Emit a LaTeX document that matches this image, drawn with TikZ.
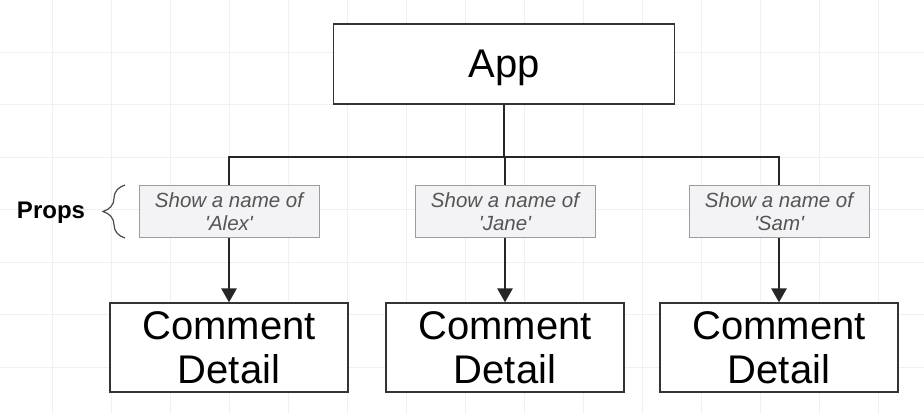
\documentclass[tikz,border=0pt]{standalone}
\usepackage{fontspec}
\setmainfont{Liberation Sans}
\usetikzlibrary{arrows.meta,decorations.pathreplacing,positioning}
\definecolor{propfill}{HTML}{F3F3F5}
\definecolor{propline}{HTML}{9C9C9C}
\definecolor{proptext}{HTML}{555555}
\definecolor{gridline}{HTML}{F0F0F4}
\tikzset{
  compbox/.style={draw=black!80, line width=1.2pt, fill=white, align=center,
    inner sep=0pt, font=\fontsize{40}{44}\selectfont},
  propbox/.style={draw=propline, line width=1pt, fill=propfill, align=center,
    inner sep=0pt, minimum width=180pt, minimum height=52pt,
    text=proptext, font=\fontsize{20.5}{23}\selectfont\itshape},
  wire/.style={line width=2.6pt, black!85},
  flow/.style={wire, -{Triangle[width=15pt,length=14pt]}}
}
\begin{document}
\begin{tikzpicture}[x=1pt,y=-1pt]
\useasboundingbox (0,0) rectangle (924,414);
% faint background grid
\foreach \gx in {52,111,...,924} \draw[gridline, line width=0.8pt] (\gx,0) -- (\gx,414);
\foreach \gy in {52,104.5,...,414} \draw[gridline, line width=0.8pt] (0,\gy) -- (924,\gy);

\node[compbox, text depth=0pt, minimum width=341pt, minimum height=80pt] (app) at (504,64) {App};
\coordinate (bus) at (504,157);

\foreach \name/\cx/\who in {alex/229/Alex, jane/505/Jane, sam/779/Sam} {
  \node[propbox] (p\name) at (\cx,211.5) {Show a name of\\\textquotesingle\who\textquotesingle};
  \node[compbox, minimum width=238pt, minimum height=89pt] (c\name) at (\cx,347.5) {Comment\\Detail};
  \coordinate (t\name) at (\cx,157);
  \draw[wire] (t\name) -- (p\name.north);
  \draw[flow] (p\name.south) -- (c\name.north);
}
\draw[wire] (app.south) -- (bus);
\draw[wire, line cap=rect] (talex) -- (tsam);

% props label and brace
\node[font=\fontsize{24}{26}\selectfont\bfseries] (props) at (51,213) {Props};
\coordinate (btop) at (125,185);
\coordinate (bbot) at (125,238);
\draw[black!70, line width=1.2pt, decorate, decoration={brace, amplitude=22pt, aspect=0.5}] (bbot) -- (btop);
\end{tikzpicture}
\end{document}
